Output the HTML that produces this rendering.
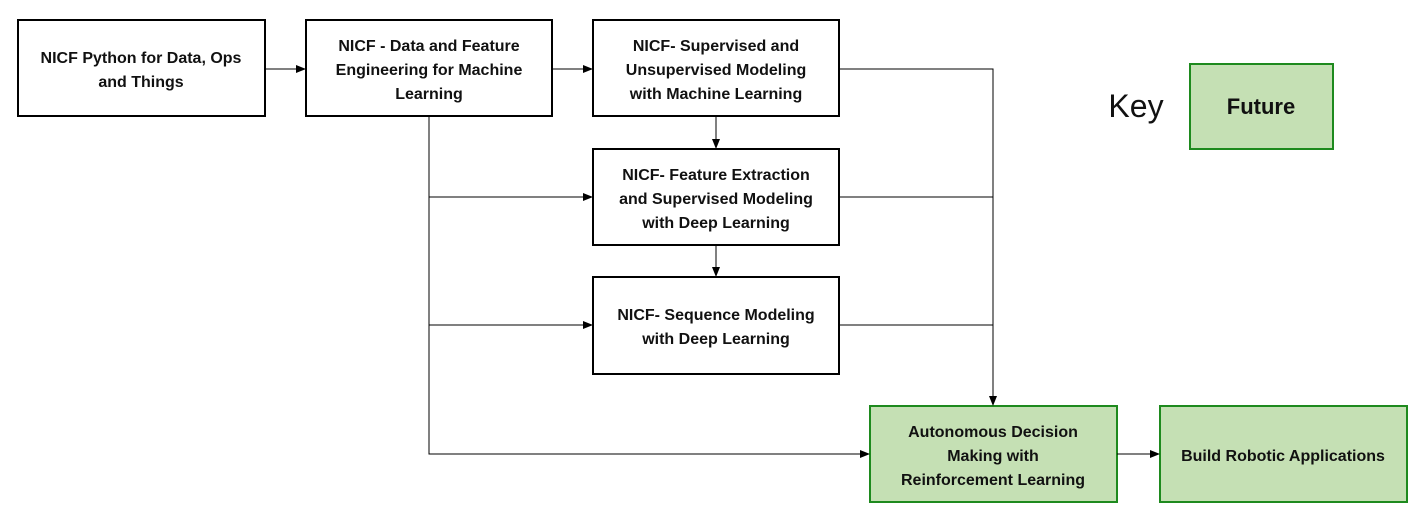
<!DOCTYPE html>
<html><head><meta charset="utf-8"><style>
body{margin:0;background:#fff;}
svg{display:block}
text{font-family:"Liberation Sans",sans-serif;font-weight:bold;font-size:16px;fill:#111;text-anchor:middle}
.b{fill:#fff;stroke:#000;stroke-width:2}
.g{fill:#c5e0b4;stroke:#1e8a1e;stroke-width:2}
.l{stroke:#000;stroke-width:1;fill:none}
</style></head><body>
<svg width="1426" height="519" viewBox="0 0 1426 519">
<defs><marker id="a" markerWidth="10" markerHeight="8" refX="9" refY="4" orient="auto" markerUnits="userSpaceOnUse"><path d="M0,0 L10,4 L0,8z" fill="#000"/></marker></defs>
<rect class="b" x="18" y="20" width="247" height="96"/>
<rect class="b" x="306" y="20" width="246" height="96"/>
<rect class="b" x="593" y="20" width="246" height="96"/>
<rect class="b" x="593" y="149" width="246" height="96"/>
<rect class="b" x="593" y="277" width="246" height="97"/>
<rect class="g" x="870" y="406" width="247" height="96"/>
<rect class="g" x="1160" y="406" width="247" height="96"/>
<rect class="g" x="1190" y="64" width="143" height="85"/>
<path class="l" d="M265 69H305" marker-end="url(#a)"/>
<path class="l" d="M552 69H592" marker-end="url(#a)"/>
<path class="l" d="M839 69H993V405" marker-end="url(#a)"/>
<path class="l" d="M839 197H993M839 325H993"/>
<path class="l" d="M716 116V148" marker-end="url(#a)"/>
<path class="l" d="M716 245V276" marker-end="url(#a)"/>
<path class="l" d="M429 116V454H869" marker-end="url(#a)"/>
<path class="l" d="M429 197H592" marker-end="url(#a)"/>
<path class="l" d="M429 325H592" marker-end="url(#a)"/>
<path class="l" d="M1117 454H1159" marker-end="url(#a)"/>
<text x="141" y="63">NICF Python for Data, Ops</text><text x="141" y="87">and Things</text>
<text x="429" y="51">NICF - Data and Feature</text><text x="429" y="75">Engineering for Machine</text><text x="429" y="99">Learning</text>
<text x="716" y="51">NICF- Supervised and</text><text x="716" y="75">Unsupervised Modeling</text><text x="716" y="99">with Machine Learning</text>
<text x="716" y="180">NICF- Feature Extraction</text><text x="716" y="204">and Supervised Modeling</text><text x="716" y="228">with Deep Learning</text>
<text x="716" y="320">NICF- Sequence Modeling</text><text x="716" y="344">with Deep Learning</text>
<text x="993" y="437">Autonomous Decision</text><text x="993" y="461">Making with</text><text x="993" y="485">Reinforcement Learning</text>
<text x="1283" y="461">Build Robotic Applications</text>
<text x="1261" y="114" style="font-size:22px">Future</text>
<text x="1136" y="117" style="font-size:32px;font-weight:normal">Key</text>
</svg>
</body></html>
